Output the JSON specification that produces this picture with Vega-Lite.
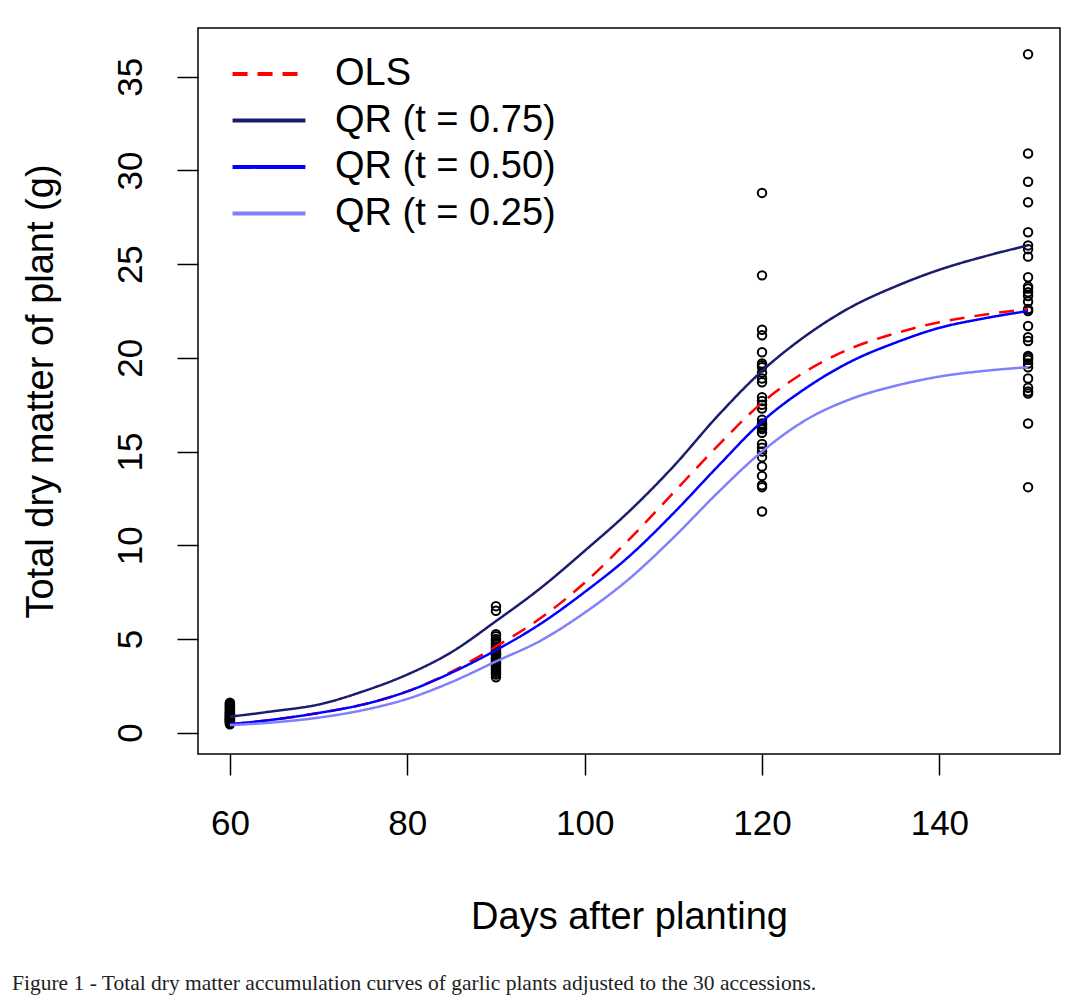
{
  "$schema": "https://vega.github.io/schema/vega-lite/v6.json",
  "width": 862,
  "height": 726,
  "autosize": {"type": "none"},
  "padding": {"left": 198, "top": 28, "right": 17, "bottom": 247},
  "background": "white",
  "config": {
    "view": {"stroke": "#000", "strokeWidth": 1.5},
    "font": "Liberation Sans"
  },
  "title": {
    "text": "Figure 1 - Total dry matter accumulation curves of garlic plants adjusted to the 30 accessions.",
    "orient": "bottom",
    "anchor": "start",
    "frame": "group",
    "font": "Liberation Serif",
    "fontSize": 21.5,
    "fontWeight": "normal",
    "color": "#222",
    "dx": -186,
    "offset": 37
  },
  "datasets": {
    "pts": [
      {"day": 60, "dm": 0.45}, {"day": 60, "dm": 0.5}, {"day": 60, "dm": 0.55}, {"day": 60, "dm": 0.6}, {"day": 60, "dm": 0.62},
      {"day": 60, "dm": 0.65}, {"day": 60, "dm": 0.7}, {"day": 60, "dm": 0.72}, {"day": 60, "dm": 0.75}, {"day": 60, "dm": 0.8},
      {"day": 60, "dm": 0.82}, {"day": 60, "dm": 0.85}, {"day": 60, "dm": 0.9}, {"day": 60, "dm": 0.92}, {"day": 60, "dm": 0.95},
      {"day": 60, "dm": 1.0}, {"day": 60, "dm": 1.03}, {"day": 60, "dm": 1.06}, {"day": 60, "dm": 1.1}, {"day": 60, "dm": 1.15},
      {"day": 60, "dm": 1.2}, {"day": 60, "dm": 1.25}, {"day": 60, "dm": 1.3}, {"day": 60, "dm": 1.35}, {"day": 60, "dm": 1.4},
      {"day": 60, "dm": 1.45}, {"day": 60, "dm": 1.5}, {"day": 60, "dm": 1.55}, {"day": 60, "dm": 1.6}, {"day": 60, "dm": 0.68},
      {"day": 90, "dm": 6.75}, {"day": 90, "dm": 6.5}, {"day": 90, "dm": 5.25}, {"day": 90, "dm": 5.15}, {"day": 90, "dm": 5.0},
      {"day": 90, "dm": 4.9}, {"day": 90, "dm": 4.8}, {"day": 90, "dm": 4.7}, {"day": 90, "dm": 4.6}, {"day": 90, "dm": 4.5},
      {"day": 90, "dm": 4.4}, {"day": 90, "dm": 4.3}, {"day": 90, "dm": 4.25}, {"day": 90, "dm": 4.2}, {"day": 90, "dm": 4.1},
      {"day": 90, "dm": 4.0}, {"day": 90, "dm": 3.95}, {"day": 90, "dm": 3.9}, {"day": 90, "dm": 3.8}, {"day": 90, "dm": 3.75},
      {"day": 90, "dm": 3.7}, {"day": 90, "dm": 3.6}, {"day": 90, "dm": 3.5}, {"day": 90, "dm": 3.4}, {"day": 90, "dm": 3.3},
      {"day": 90, "dm": 3.2}, {"day": 90, "dm": 3.1}, {"day": 90, "dm": 2.95}, {"day": 90, "dm": 4.55}, {"day": 90, "dm": 4.15},
      {"day": 120, "dm": 28.8}, {"day": 120, "dm": 24.4}, {"day": 120, "dm": 21.5}, {"day": 120, "dm": 21.2}, {"day": 120, "dm": 20.3},
      {"day": 120, "dm": 19.7}, {"day": 120, "dm": 19.5}, {"day": 120, "dm": 19.2}, {"day": 120, "dm": 18.9}, {"day": 120, "dm": 18.7},
      {"day": 120, "dm": 17.9}, {"day": 120, "dm": 17.7}, {"day": 120, "dm": 17.5}, {"day": 120, "dm": 17.3}, {"day": 120, "dm": 16.7},
      {"day": 120, "dm": 16.5}, {"day": 120, "dm": 16.3}, {"day": 120, "dm": 16.2}, {"day": 120, "dm": 16.0}, {"day": 120, "dm": 15.4},
      {"day": 120, "dm": 15.2}, {"day": 120, "dm": 15.0}, {"day": 120, "dm": 14.7}, {"day": 120, "dm": 14.2}, {"day": 120, "dm": 13.7},
      {"day": 120, "dm": 13.2}, {"day": 120, "dm": 13.1}, {"day": 120, "dm": 11.8}, {"day": 120, "dm": 19.6}, {"day": 120, "dm": 16.4},
      {"day": 150, "dm": 36.2}, {"day": 150, "dm": 30.9}, {"day": 150, "dm": 29.4}, {"day": 150, "dm": 28.3}, {"day": 150, "dm": 26.7},
      {"day": 150, "dm": 26.0}, {"day": 150, "dm": 25.4}, {"day": 150, "dm": 24.3}, {"day": 150, "dm": 23.8}, {"day": 150, "dm": 23.5},
      {"day": 150, "dm": 23.3}, {"day": 150, "dm": 23.0}, {"day": 150, "dm": 22.5}, {"day": 150, "dm": 21.7}, {"day": 150, "dm": 21.1},
      {"day": 150, "dm": 20.9}, {"day": 150, "dm": 20.1}, {"day": 150, "dm": 19.9}, {"day": 150, "dm": 19.7}, {"day": 150, "dm": 19.5},
      {"day": 150, "dm": 18.9}, {"day": 150, "dm": 18.4}, {"day": 150, "dm": 18.1}, {"day": 150, "dm": 16.5}, {"day": 150, "dm": 13.1},
      {"day": 150, "dm": 23.7}, {"day": 150, "dm": 20.0}, {"day": 150, "dm": 18.2}, {"day": 150, "dm": 22.6}, {"day": 150, "dm": 25.8}
    ],
    "curves": [
      {"model": "QR (t = 0.75)", "day": 60, "dm": 0.85}, {"model": "QR (t = 0.75)", "day": 65, "dm": 1.15},
      {"model": "QR (t = 0.75)", "day": 70, "dm": 1.5}, {"model": "QR (t = 0.75)", "day": 75, "dm": 2.2},
      {"model": "QR (t = 0.75)", "day": 80, "dm": 3.1}, {"model": "QR (t = 0.75)", "day": 85, "dm": 4.3},
      {"model": "QR (t = 0.75)", "day": 90, "dm": 5.95}, {"model": "QR (t = 0.75)", "day": 95, "dm": 7.7},
      {"model": "QR (t = 0.75)", "day": 100, "dm": 9.7}, {"model": "QR (t = 0.75)", "day": 105, "dm": 11.8},
      {"model": "QR (t = 0.75)", "day": 110, "dm": 14.2}, {"model": "QR (t = 0.75)", "day": 115, "dm": 16.9},
      {"model": "QR (t = 0.75)", "day": 120, "dm": 19.3}, {"model": "QR (t = 0.75)", "day": 125, "dm": 21.2},
      {"model": "QR (t = 0.75)", "day": 130, "dm": 22.7}, {"model": "QR (t = 0.75)", "day": 135, "dm": 23.8},
      {"model": "QR (t = 0.75)", "day": 140, "dm": 24.7}, {"model": "QR (t = 0.75)", "day": 145, "dm": 25.4},
      {"model": "QR (t = 0.75)", "day": 150, "dm": 26.0},
      {"model": "OLS", "day": 60, "dm": 0.45}, {"model": "OLS", "day": 65, "dm": 0.7},
      {"model": "OLS", "day": 70, "dm": 1.05}, {"model": "OLS", "day": 75, "dm": 1.5},
      {"model": "OLS", "day": 80, "dm": 2.2}, {"model": "OLS", "day": 85, "dm": 3.25},
      {"model": "OLS", "day": 90, "dm": 4.6}, {"model": "OLS", "day": 95, "dm": 6.1},
      {"model": "OLS", "day": 100, "dm": 8.0}, {"model": "OLS", "day": 105, "dm": 10.3},
      {"model": "OLS", "day": 110, "dm": 12.8}, {"model": "OLS", "day": 115, "dm": 15.3},
      {"model": "OLS", "day": 120, "dm": 17.6}, {"model": "OLS", "day": 125, "dm": 19.3},
      {"model": "OLS", "day": 130, "dm": 20.5}, {"model": "OLS", "day": 135, "dm": 21.3},
      {"model": "OLS", "day": 140, "dm": 21.9}, {"model": "OLS", "day": 145, "dm": 22.3},
      {"model": "OLS", "day": 150, "dm": 22.6},
      {"model": "QR (t = 0.50)", "day": 60, "dm": 0.45}, {"model": "QR (t = 0.50)", "day": 65, "dm": 0.7},
      {"model": "QR (t = 0.50)", "day": 70, "dm": 1.05}, {"model": "QR (t = 0.50)", "day": 75, "dm": 1.5},
      {"model": "QR (t = 0.50)", "day": 80, "dm": 2.2}, {"model": "QR (t = 0.50)", "day": 85, "dm": 3.2},
      {"model": "QR (t = 0.50)", "day": 90, "dm": 4.4}, {"model": "QR (t = 0.50)", "day": 95, "dm": 5.8},
      {"model": "QR (t = 0.50)", "day": 100, "dm": 7.5}, {"model": "QR (t = 0.50)", "day": 105, "dm": 9.4},
      {"model": "QR (t = 0.50)", "day": 110, "dm": 11.7}, {"model": "QR (t = 0.50)", "day": 115, "dm": 14.2},
      {"model": "QR (t = 0.50)", "day": 120, "dm": 16.6}, {"model": "QR (t = 0.50)", "day": 125, "dm": 18.4},
      {"model": "QR (t = 0.50)", "day": 130, "dm": 19.8}, {"model": "QR (t = 0.50)", "day": 135, "dm": 20.8},
      {"model": "QR (t = 0.50)", "day": 140, "dm": 21.6}, {"model": "QR (t = 0.50)", "day": 145, "dm": 22.1},
      {"model": "QR (t = 0.50)", "day": 150, "dm": 22.5},
      {"model": "QR (t = 0.25)", "day": 60, "dm": 0.4}, {"model": "QR (t = 0.25)", "day": 65, "dm": 0.55},
      {"model": "QR (t = 0.25)", "day": 70, "dm": 0.8}, {"model": "QR (t = 0.25)", "day": 75, "dm": 1.2},
      {"model": "QR (t = 0.25)", "day": 80, "dm": 1.8}, {"model": "QR (t = 0.25)", "day": 85, "dm": 2.7},
      {"model": "QR (t = 0.25)", "day": 90, "dm": 3.8}, {"model": "QR (t = 0.25)", "day": 95, "dm": 4.9},
      {"model": "QR (t = 0.25)", "day": 100, "dm": 6.4}, {"model": "QR (t = 0.25)", "day": 105, "dm": 8.2},
      {"model": "QR (t = 0.25)", "day": 110, "dm": 10.4}, {"model": "QR (t = 0.25)", "day": 115, "dm": 12.8},
      {"model": "QR (t = 0.25)", "day": 120, "dm": 15.0}, {"model": "QR (t = 0.25)", "day": 125, "dm": 16.7},
      {"model": "QR (t = 0.25)", "day": 130, "dm": 17.8}, {"model": "QR (t = 0.25)", "day": 135, "dm": 18.5},
      {"model": "QR (t = 0.25)", "day": 140, "dm": 19.0}, {"model": "QR (t = 0.25)", "day": 145, "dm": 19.3},
      {"model": "QR (t = 0.25)", "day": 150, "dm": 19.5}
    ]
  },
  "encoding": {
    "x": {
      "field": "day",
      "type": "quantitative",
      "scale": {"domain": [56.4, 153.6], "nice": false, "zero": false},
      "axis": {
        "values": [60, 80, 100, 120, 140],
        "domain": false,
        "grid": false,
        "tickColor": "#000",
        "tickWidth": 1.5,
        "tickSize": 21,
        "labelFont": "Liberation Sans",
        "labelFontSize": 35,
        "labelColor": "#000",
        "labelBaseline": "alphabetic",
        "labelPadding": 59,
        "title": "Days after planting",
        "titleFont": "Liberation Sans",
        "titleFontSize": 38,
        "titleFontWeight": "normal",
        "titleColor": "#000",
        "titleBaseline": "alphabetic",
        "titleAlign": "center",
        "titleX": 431,
        "titleY": 174
      }
    },
    "y": {
      "field": "dm",
      "type": "quantitative",
      "scale": {"domain": [-1.14, 37.6], "nice": false, "zero": false},
      "axis": {
        "values": [0, 5, 10, 15, 20, 25, 30, 35],
        "domain": false,
        "grid": false,
        "tickColor": "#000",
        "tickWidth": 1.5,
        "tickSize": 21,
        "labelFont": "Liberation Sans",
        "labelFontSize": 35,
        "labelColor": "#000",
        "labelAngle": 270,
        "labelAlign": "center",
        "labelBaseline": "alphabetic",
        "labelPadding": 36,
        "title": "Total dry matter of plant (g)",
        "titleFont": "Liberation Sans",
        "titleFontSize": 38,
        "titleFontWeight": "normal",
        "titleColor": "#000",
        "titleAngle": 270,
        "titleBaseline": "alphabetic",
        "titleAlign": "center",
        "titleX": -146,
        "titleY": 363
      }
    }
  },
  "layer": [
    {
      "data": {"name": "pts"},
      "mark": {"type": "point", "shape": "circle", "filled": false, "stroke": "#000", "strokeWidth": 2, "size": 72, "opacity": 1}
    },
    {
      "data": {"name": "curves"},
      "mark": {"type": "line", "strokeWidth": 2.5, "interpolate": "monotone"},
      "encoding": {
        "color": {
          "field": "model",
          "type": "nominal",
          "sort": ["OLS", "QR (t = 0.75)", "QR (t = 0.50)", "QR (t = 0.25)"],
          "scale": {
            "domain": ["OLS", "QR (t = 0.75)", "QR (t = 0.50)", "QR (t = 0.25)"],
            "range": ["#FF0000", "#1C1C6E", "#0000FF", "#8080FF"]
          },
          "legend": {
            "title": null,
            "orient": "none",
            "legendX": 52,
            "legendY": 27,
            "padding": 0,
            "symbolType": "M-8.1,0H8.1",
            "symbolSize": 81,
            "symbolStrokeWidth": 4,
            "labelFont": "Liberation Sans",
            "labelFontSize": 38,
            "labelColor": "#000",
            "labelOffset": 47,
            "labelLimit": 0,
            "rowPadding": 8.5
          }
        },
        "strokeDash": {
          "field": "model",
          "type": "nominal",
          "sort": ["OLS", "QR (t = 0.75)", "QR (t = 0.50)", "QR (t = 0.25)"],
          "scale": {
            "domain": ["OLS", "QR (t = 0.75)", "QR (t = 0.50)", "QR (t = 0.25)"],
            "range": [[15, 10], [1, 0], [1, 0], [1, 0]]
          },
          "legend": {
            "title": null,
            "orient": "none",
            "legendX": 52,
            "legendY": 27,
            "padding": 0,
            "symbolType": "M-8.1,0H8.1",
            "symbolSize": 81,
            "symbolStrokeWidth": 4,
            "labelFont": "Liberation Sans",
            "labelFontSize": 38,
            "labelColor": "#000",
            "labelOffset": 47,
            "labelLimit": 0,
            "rowPadding": 8.5
          }
        }
      }
    }
  ]
}
